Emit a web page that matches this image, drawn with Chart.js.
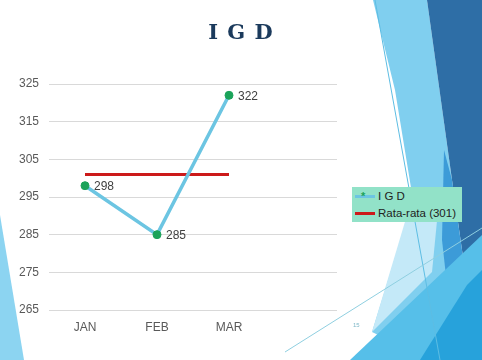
<!DOCTYPE html>
<html>
<head>
<meta charset="utf-8">
<script src="https://cdn.jsdelivr.net/npm/chart.js@4"></script>
<style>
  html,body{margin:0;padding:0;background:#fff;}
  #wrap{position:relative;width:482px;height:360px;overflow:hidden;}
  #bg{position:absolute;left:0;top:0;}
  #c{position:absolute;left:0;top:0;}
  #title{position:absolute;left:0;top:19px;width:482px;text-align:center;font-family:"DejaVu Serif",serif;font-weight:bold;font-size:21px;color:#1B3A5C;letter-spacing:1px;}
  #legend{position:absolute;left:352px;top:187px;width:110px;height:35px;background:#92E2C8;font-family:"Liberation Sans",Arial,sans-serif;font-size:11.5px;color:#222;}
  .row{position:absolute;left:3px;height:16px;line-height:16px;white-space:nowrap;}
  .sw{position:absolute;left:0;top:7px;width:20px;height:3px;}
  .lbl{position:absolute;left:23px;top:0;}
  .star{position:absolute;left:6px;top:2px;color:#1BA35A;font-size:11px;line-height:12px;font-weight:bold;}
  #num{position:absolute;left:353px;top:322px;font-family:"Liberation Sans",Arial,sans-serif;font-size:6px;color:#7fb8c8;}
</style>
</head>
<body>
<div id="wrap">
  <svg id="bg" width="482" height="360">
    <polygon points="0,215 0,360 24,360" fill="#8CD4F1"/>
    <polygon points="373,0 427,0 452,180 458,300 430,360 372,332 413,200 395,90" fill="#80CFEF"/>
    <polygon points="410,205 440,190 432,272 372,332" fill="#C4E9F8"/>
    <polygon points="427,0 482,0 482,270 467,285 452,180" fill="#2E6EA6"/>
    <polygon points="444,150 452,180 467,285 452,330 442,240" fill="#3C9BD8"/>
    <polygon points="350,360 482,235 482,360" fill="#56BFE9"/>
    <polygon points="420,360 467,285 482,270 482,360" fill="#27A2DB"/>
    <line x1="375" y1="0" x2="440" y2="360" stroke="#5DBDE3" stroke-width="1"/>
    <line x1="285" y1="352" x2="482" y2="228" stroke="#8FCFE0" stroke-width="1"/>
  </svg>
  <canvas id="c" width="482" height="360"></canvas>
  <div id="title">I G D</div>
  <div id="legend">
    <div class="row" style="top:1px"><div class="sw" style="background:#6CC5E2"></div><div class="star">*</div><div class="lbl">I G D</div></div>
    <div class="row" style="top:18px"><div class="sw" style="background:#CC1A1A"></div><div class="lbl">Rata-rata (301)</div></div>
  </div>
  <div id="num">15</div>
</div>
<script>
const categories = ['JAN', 'FEB', 'MAR', ''];
const igdValues = [298, 285, 322, null];
const averageValues = [301, 301, 301, null];
const yTicks = [265, 275, 285, 295, 305, 315, 325];

const valueLabels = {
  id: 'valueLabels',
  afterDatasetsDraw(chart) {
    const ctx = chart.ctx;
    const meta = chart.getDatasetMeta(0);
    ctx.save();
    ctx.font = '12px "Liberation Sans", Arial, sans-serif';
    ctx.fillStyle = '#404040';
    ctx.textBaseline = 'middle';
    ctx.textAlign = 'left';
    meta.data.forEach((pt, i) => {
      const v = igdValues[i];
      if (v == null) return;
      ctx.fillText(String(v), pt.x + 9, pt.y + 1);
    });
    ctx.restore();
  }
};

new Chart(document.getElementById('c'), {
  type: 'line',
  data: {
    labels: categories,
    datasets: [
      {
        label: 'I G D',
        data: igdValues,
        borderColor: '#6CC5E2',
        borderWidth: 3.5,
        pointRadius: 4,
        pointBackgroundColor: '#1BA35A',
        pointBorderColor: '#1BA35A',
        pointBorderWidth: 1,
        tension: 0,
        order: 0
      },
      {
        label: 'Rata-rata (301)',
        data: averageValues,
        borderColor: '#CC1A1A',
        borderWidth: 3,
        pointRadius: 0,
        tension: 0,
        order: 1
      }
    ]
  },
  options: {
    responsive: false,
    animation: false,
    layout: { padding: { top: 84, right: 145, bottom: 24, left: 0 } },
    plugins: { legend: { display: false }, title: { display: false }, tooltip: { enabled: false } },
    scales: {
      x: {
        type: 'category',
        offset: true,
        grid: { display: false },
        border: { display: false },
        ticks: { padding: 2, color: '#595959', font: { family: '"Liberation Sans", Arial, sans-serif', size: 12 } },
        afterFit(s) { s.height = 26; }
      },
      y: {
        min: yTicks[0],
        max: yTicks[yTicks.length - 1],
        afterBuildTicks(s) { s.ticks = yTicks.map(v => ({ value: v })); },
        grid: { color: '#D9D9D9', drawTicks: false, lineWidth: 1 },
        border: { display: false },
        ticks: { padding: 10, color: '#595959', font: { family: '"Liberation Sans", Arial, sans-serif', size: 12 } },
        afterFit(s) { s.width = 49; }
      }
    }
  },
  plugins: [valueLabels]
});
</script>
</body>
</html>
